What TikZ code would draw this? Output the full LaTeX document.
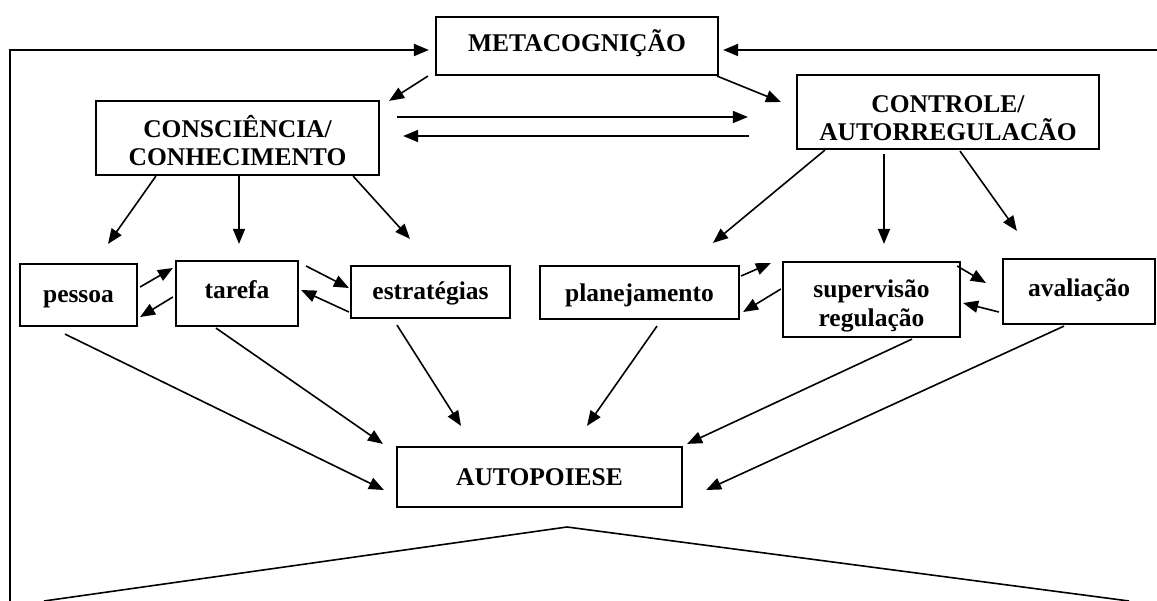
\documentclass[tikz,border=0pt]{standalone}
\usepackage{fontspec}
\setmainfont{Liberation Serif}
\usetikzlibrary{arrows.meta}

\begin{document}
\begin{tikzpicture}[x=1pt,y=-1pt,
  box/.style={draw,line width=2.2pt,inner sep=0pt},
  captext/.style={align=center,inner sep=0pt,
    font=\bfseries\fontsize{25.5}{28}\selectfont},
  lowtext/.style={align=center,inner sep=0pt,
    font=\bfseries\fontsize{25.5}{29}\selectfont},
  tip/.style={-{Triangle[length=15pt,width=12pt]}},
  link/.style={line width=1.6pt,tip},
  loopline/.style={line width=2pt,tip}]
\useasboundingbox (0,0) rectangle (1157,601);
\fill[white] (0,0) rectangle (1157,601);

% boxes, each with its caption set slightly off-centre
\node[box,minimum width=282pt,minimum height=58pt,
  label={[captext,yshift=3pt]center:METACOGNIÇÃO}] (meta) at (577,46) {};
\node[box,minimum width=283pt,minimum height=74pt,
  label={[captext,yshift=-2.5pt]center:{CONSCIÊNCIA/\\CONHECIMENTO}}] (consc) at (237.5,138) {};
\node[box,minimum width=302pt,minimum height=74pt,
  label={[captext,yshift=-6pt]center:{CONTROLE/\\AUTORREGULACÃO}}] (ctrl) at (948,112) {};
\node[box,minimum width=117pt,minimum height=62pt,
  label={[lowtext,yshift=-4pt]center:pessoa}] (pessoa) at (78.5,295) {};
\node[box,minimum width=122pt,minimum height=65pt,
  label={[lowtext,yshift=4pt]center:tarefa}] (tarefa) at (237,293.5) {};
\node[box,minimum width=159pt,minimum height=52pt,
  label={[lowtext,yshift=-1pt]center:estratégias}] (estrat) at (430.5,292) {};
\node[box,minimum width=199pt,minimum height=53pt,
  label={[lowtext,yshift=-3pt]center:planejamento}] (plan) at (639.5,292.5) {};
\node[box,minimum width=177pt,minimum height=75pt,
  label={[lowtext,yshift=-6pt]center:{supervisão\\regulação}}] (superv) at (871.5,299.5) {};
\node[box,minimum width=152pt,minimum height=65pt,
  label={[lowtext,yshift=1pt]center:avaliação}] (aval) at (1079,291.5) {};
\node[box,minimum width=285pt,minimum height=60pt,
  label={[captext]center:AUTOPOIESE}] (auto) at (539.5,477) {};

% free ends of the outer lines
\coordinate (lb) at (10,601);
\coordinate (rt) at (1157,50);
\coordinate (apex) at (567,527);
\coordinate (cl) at (44,601);
\coordinate (cr) at (1129,601);

% feedback loops into METACOGNIÇÃO
\draw[loopline] (lb) |- ([xshift=-6pt,yshift=-4pt]meta.west);
\draw[loopline] (rt) -- ([xshift=4pt,yshift=-4pt]meta.east);

% METACOGNIÇÃO to its two branches
\draw[link] ([xshift=-7pt]meta.south west) -- ([xshift=9pt,yshift=-1pt]consc.north east);
\draw[link] ([xshift=-2pt]meta.south east) -- ([xshift=-15pt,yshift=10pt]ctrl.west);

% exchange between the branches
\draw[link] ([xshift=17pt,yshift=21pt]consc.east) -- ([xshift=-48pt,yshift=-5pt]ctrl.west);
\draw[link] ([xshift=-47pt,yshift=-24pt]ctrl.west) -- ([xshift=23pt,yshift=2pt]consc.east);

% CONSCIÊNCIA / CONHECIMENTO children
\draw[link] ([xshift=61pt]consc.south west) -- ([xshift=29.5pt,yshift=19pt]pessoa.north);
\draw[link] ([xshift=1.5pt]consc.south) -- ([xshift=2pt,yshift=16pt]tarefa.north);
\draw[link] ([xshift=-27pt]consc.south east) -- ([xshift=-20.5pt,yshift=26pt]estrat.north);

% CONTROLE / AUTORREGULAÇÃO children
\draw[link] ([xshift=29pt]ctrl.south west) -- ([xshift=73.5pt,yshift=22pt]plan.north);
\draw[link] ([xshift=-64pt,yshift=-4pt]ctrl.south) -- ([xshift=12.5pt,yshift=17pt]superv.north);
\draw[link] ([xshift=12pt,yshift=-1pt]ctrl.south) -- ([xshift=15pt,yshift=27pt]aval.north west);

% exchanges between neighbouring boxes
\draw[link] ([xshift=2pt,yshift=8pt]pessoa.east) -- ([xshift=-2pt,yshift=25.5pt]tarefa.west);
\draw[link] ([xshift=-2pt,yshift=-3.5pt]tarefa.west) -- ([xshift=2pt,yshift=-22pt]pessoa.east);
\draw[link] ([xshift=7pt,yshift=27.5pt]tarefa.east) -- ([xshift=-1pt,yshift=4pt]estrat.west);
\draw[link] ([xshift=-1pt,yshift=-20pt]estrat.west) -- ([xshift=2pt,yshift=3.5pt]tarefa.east);
\draw[link] ([xshift=1pt,yshift=16.5pt]plan.east) -- ([xshift=-11pt,yshift=36.5pt]superv.west);
\draw[link] ([xshift=-1pt,yshift=10.5pt]superv.west) -- ([xshift=3pt,yshift=-19.5pt]plan.east);
\draw[link] ([xshift=-4pt,yshift=33.5pt]superv.east) -- ([xshift=-16pt,yshift=8.5pt]aval.west);
\draw[link] ([xshift=-3pt,yshift=-20.5pt]aval.west) -- ([xshift=2pt,yshift=-3.5pt]superv.east);

% everything flows into AUTOPOIESE
\draw[link] ([xshift=-13.5pt,yshift=-7pt]pessoa.south) -- ([xshift=-12pt,yshift=-13pt]auto.west);
\draw[link] ([xshift=-21pt,yshift=-1pt]tarefa.south) -- ([xshift=-13pt,yshift=2pt]auto.north west);
\draw[link] ([xshift=-33.5pt,yshift=-6pt]estrat.south) -- ([xshift=-78.5pt,yshift=20pt]auto.north);
\draw[link] ([xshift=17.5pt,yshift=-6pt]plan.south) -- ([xshift=47.5pt,yshift=20pt]auto.north);
\draw[link] ([xshift=40.5pt,yshift=-1pt]superv.south) -- ([xshift=4pt,yshift=2pt]auto.north east);
\draw[link] ([xshift=-15pt,yshift=-1pt]aval.south) -- ([xshift=23pt,yshift=-13pt]auto.east);

% roof below AUTOPOIESE
\draw[line width=1.6pt] (cl) -- (apex) -- (cr);
\end{tikzpicture}
\end{document}
